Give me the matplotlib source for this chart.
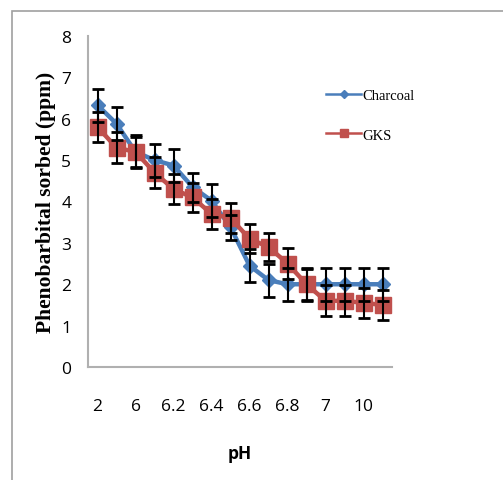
import matplotlib
matplotlib.use("Agg")
import matplotlib.pyplot as plt
from matplotlib.patches import Rectangle
from matplotlib.lines import Line2D

ph_labels = ["2", "", "6", "", "6.2", "", "6.4", "", "6.6", "", "6.8", "", "7", "", "10", ""]
charcoal = [6.33, 5.88, 5.2, 5.0, 4.87, 4.35, 4.02, 3.38, 2.45, 2.1, 2.0, 2.0, 2.0, 2.0, 2.0, 2.0]
charcoal_err = [0.4, 0.4, 0.4, 0.4, 0.4, 0.35, 0.4, 0.3, 0.4, 0.4, 0.4, 0.4, 0.4, 0.4, 0.4, 0.4]
gks = [5.8, 5.3, 5.2, 4.7, 4.3, 4.1, 3.7, 3.6, 3.1, 2.9, 2.5, 2.0, 1.6, 1.6, 1.55, 1.5]
gks_err = [0.37, 0.37, 0.37, 0.37, 0.37, 0.35, 0.37, 0.37, 0.35, 0.35, 0.37, 0.37, 0.37, 0.37, 0.37, 0.37]

x = list(range(len(ph_labels)))
blue = "#4a7ebb"
red = "#c0504d"

fig = plt.figure(figsize=(5.03, 4.81), dpi=100)
fig.patches.append(Rectangle((12 / 503, -0.05), 1.1, 1 - 12 / 481 + 0.05,
                             transform=fig.transFigure, fill=False,
                             edgecolor="#a0a0a0", linewidth=1.2))

ax = fig.add_axes([88 / 503, 1 - 368 / 481, (392 - 88) / 503, (368 - 37) / 481])

ax.plot(x, charcoal, color=blue, linewidth=3.2, marker="D", markersize=7, zorder=3)
ax.plot(x, gks, color=red, linewidth=3.2, marker="s", markersize=11, zorder=3)
ax.errorbar(x, charcoal, yerr=charcoal_err, fmt="none", ecolor="black",
            elinewidth=1.5, capsize=4, capthick=2, zorder=4)
ax.errorbar(x, gks, yerr=gks_err, fmt="none", ecolor="black",
            elinewidth=1.5, capsize=4, capthick=2, zorder=4)

ax.set_xlim(-0.5, 15.5)
ax.set_ylim(0, 8)
ax.set_xticks(x)
ax.set_xticklabels(ph_labels, fontfamily="Open Sans", fontsize=12.5)
ax.set_yticks(range(0, 9))
ax.set_yticklabels([str(v) for v in range(0, 9)], fontfamily="Open Sans", fontsize=12.5)
ax.tick_params(axis="x", length=0, pad=22)
ax.tick_params(axis="y", length=0, pad=12)

for side in ["top", "right"]:
    ax.spines[side].set_visible(False)
for side in ["left", "bottom"]:
    ax.spines[side].set_color("#b0b0b0")
    ax.spines[side].set_linewidth(1.5)

ax.set_ylabel("Phenobarbital sorbed (ppm)", fontfamily="Liberation Serif",
              fontweight="bold", fontsize=15.5, labelpad=4)
ax.set_xlabel("pH", fontfamily="Open Sans", fontweight="bold", fontsize=12.5, labelpad=22)

handles = [Line2D([], [], color=blue, linewidth=1.8, marker="D", markersize=4),
           Line2D([], [], color=red, linewidth=1.8, marker="s", markersize=6)]
ax.legend(handles, ["Charcoal", "GKS"], loc="upper left", bbox_to_anchor=(0.74, 0.88),
          frameon=False, prop={"family": "Liberation Serif", "size": 10.5},
          handlelength=2.4, labelspacing=1.8, handletextpad=0.1)

fig.savefig("out.png", dpi=100)
